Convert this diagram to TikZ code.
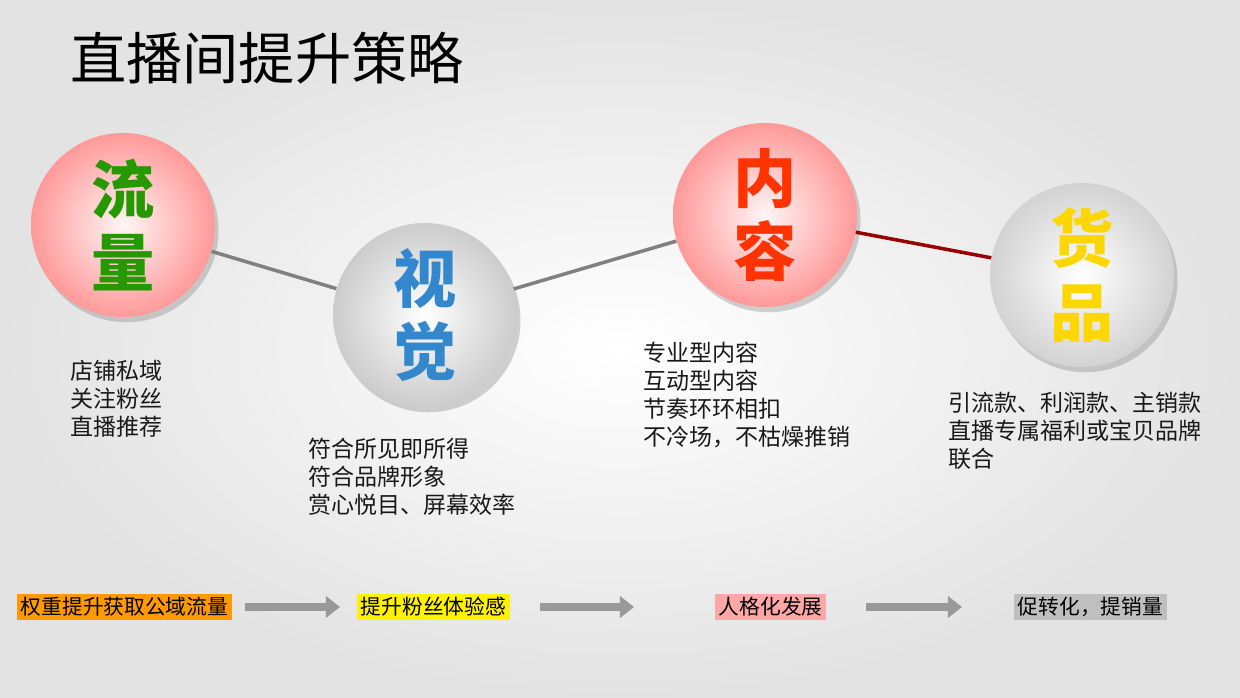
\documentclass[tikz,border=0pt]{standalone}
\usepackage{fontspec}
\setmainfont{Noto Sans CJK SC}
\usetikzlibrary{shadows,arrows.meta}
\begin{document}
\begin{tikzpicture}[x=0.02cm,y=-0.02cm,
  ball/.style={circle,minimum size=184*0.02cm,inner sep=0pt,drop shadow={opacity=0.35,shadow xshift=2pt,shadow yshift=-3pt}},
  big/.style={font=\fontsize{36}{42}\selectfont\bfseries,align=center},
  body/.style={font=\fontsize{13.1}{15.8}\selectfont,align=left,anchor=north west,inner sep=0pt,text=black!90},
  tag/.style={font=\fontsize{11.8}{13}\selectfont,inner sep=2pt,anchor=west},
  arr/.style={draw=gray!80,line width=4pt,-{Triangle[length=8pt,width=12pt]}}]
\shade[inner color=white,outer color=gray!22] (0,0) rectangle (1240,697);
\useasboundingbox (0,0) rectangle (1240,697);
\node[anchor=west,font=\fontsize{32}{36}\selectfont] (title) at (64,58) {直播间提升策略};
\node[ball,inner color=white!85!pink,outer color=red!40] (a) at (123,225) {};
\node[ball,inner color=white,outer color=gray!40] (b) at (425,315) {};
\node[ball,inner color=white!85!pink,outer color=red!40] (c) at (765,215) {};
\node[ball,inner color=white,outer color=gray!35] (d) at (1082,275) {};
\draw[gray,line width=2pt] (a) -- (b);
\draw[gray,line width=2pt] (b) -- (c);
\draw[red!60!black,line width=2pt] (c) -- (d);
\node[big,text=green!50!black!80!lime] at (a) {流\\量};
\node[big,text=blue!45!cyan!60!gray] at (b) {视\\觉};
\node[big,text=orange!40!red] at (c) {内\\容};
\node[big,text=yellow!75!orange] at (d) {货\\品};
\node[body] (ta) at (70,360) {店铺私域\\关注粉丝\\直播推荐};
\node[body] (tb) at (308,438) {符合所见即所得\\符合品牌形象\\赏心悦目、屏幕效率};
\node[body] (tc) at (643,342) {专业型内容\\互动型内容\\节奏环环相扣\\不冷场，不枯燥推销};
\node[body] (td) at (948,392) {引流款、利润款、主销款\\直播专属福利或宝贝品牌\\联合};
\node[tag,fill=orange!80!yellow] (l1) at (17,607) {权重提升获取公域流量};
\node[tag,fill=yellow] (l2) at (357,607) {提升粉丝体验感};
\node[tag,fill=red!35] (l3) at (715,607) {人格化发展};
\node[tag,fill=gray!50] (l4) at (1014,607) {促转化，提销量};
\coordinate (p1) at (245,607); \coordinate (q1) at (340,607);
\coordinate (p2) at (540,607); \coordinate (q2) at (634,607);
\coordinate (p3) at (866,607); \coordinate (q3) at (962,607);
\draw[arr] (p1) -- (q1);
\draw[arr] (p2) -- (q2);
\draw[arr] (p3) -- (q3);
\end{tikzpicture}
\end{document}
